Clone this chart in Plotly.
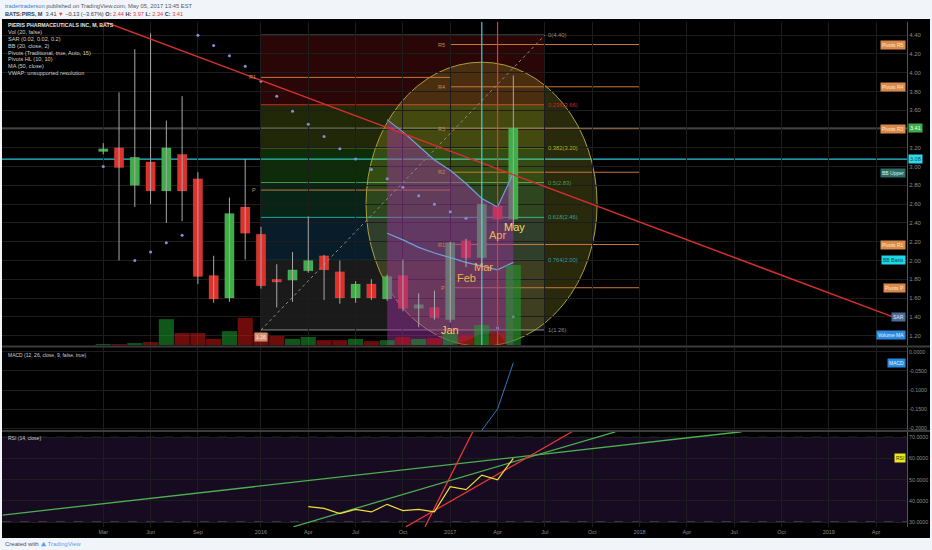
import plotly.graph_objects as go

W, H = 932, 550

# ---- monthly bars, index 0 = Mar 2015 ----
bar_idx = list(range(27))
opens  = [3.16, 3.20, 2.80, 3.05, 2.74, 3.13, 2.87, 1.84, 1.60, 2.57, 2.28, 1.80, 1.79, 1.89,
          2.05, 1.88, 1.60, 1.75, 1.59, 1.84, 1.49, 1.50, 1.37, 2.21, 2.03, 2.58, 2.44]
highs  = [3.25, 3.79, 4.25, 4.42, 3.49, 3.75, 2.94, 2.05, 2.67, 3.08, 2.36, 1.96, 2.09, 2.47,
          2.06, 2.00, 1.78, 1.80, 1.85, 2.01, 1.65, 1.68, 2.20, 2.23, 2.65, 2.66, 3.97]
lows   = [3.13, 2.00, 2.57, 2.60, 2.40, 2.42, 1.75, 1.55, 1.56, 2.01, 1.70, 1.50, 1.56, 1.87,
          1.58, 1.54, 1.55, 1.58, 1.57, 1.46, 1.29, 1.37, 1.34, 1.93, 1.95, 2.40, 2.34]
closes = [3.19, 2.99, 3.10, 2.74, 3.20, 2.74, 1.83, 1.59, 2.50, 2.29, 1.73, 1.77, 1.90, 2.00,
          1.90, 1.60, 1.75, 1.60, 1.83, 1.49, 1.53, 1.39, 2.19, 2.03, 2.60, 2.44, 3.41]
volume_m = [0.3, 0.3, 0.6, 0.9, 8.0, 3.7, 3.7, 1.9, 4.3, 8.4, 3.7, 2.8, 1.9, 2.5,
            1.5, 1.5, 1.9, 1.2, 1.5, 2.5, 1.9, 2.2, 3.7, 3.1, 6.2, 3.7, 24.8]
sar = [3.00, None, 2.00, 2.09, 2.19, 2.27, 4.40, 4.29, 4.18, 4.07, 3.91, 3.75, 3.59, 3.45,
       3.32, 3.19, 3.08, 2.97, 2.87, 2.78, 2.69, 2.60, 2.52, 2.45, None, 1.28, 1.40]

# Bollinger bands (from Sep 2016)
bb_idx = list(range(18, 27))
bb_upper = [3.50, 3.37, 3.22, 3.07, 2.96, 2.82, 2.66, 2.57, 2.93]
bb_basis = [2.29, 2.22, 2.14, 2.08, 2.03, 1.98, 1.94, 1.90, 1.98]
bb_lower = [1.08, 1.07, 1.06, 1.09, 1.10, 1.14, 1.22, 1.23, 1.03]

# MACD and RSI
macd_idx = [24, 25, 26]
macd_vals = [-0.205, -0.149, -0.029]
rsi_idx = list(range(13, 27))
rsi_vals = [37.3, 36.5, 34.0, 36.0, 34.8, 38.4, 35.4, 36.0, 34.9, 46.7, 45.3, 52.2, 50.0, 60.1]

# x ticks
tick_idx = [0, 3, 6, 10, 13, 16, 19, 22, 25, 28, 31, 34, 37, 40, 43, 46, 49]
tick_txt = ["Mar", "Jun", "Sep", "2016", "Apr", "Jul", "Oct", "2017", "Apr", "Jul", "Oct",
            "2018", "Apr", "Jul", "Oct", "2019", "Apr"]

# drawings
fib_start, fib_end = 10, 28
fib_top, fib_bottom = 4.40, 1.26
fib_levels = [0, 0.236, 0.382, 0.5, 0.618, 0.764, 1]
fib_line_colors = ["#8c8c8c", "#c62828", "#b8b820", "#43a047", "#26a69a", "#2f9fa0", "#8c8c8c"]
fib_band_colors = ["rgba(210,30,30,0.2)", "rgba(150,180,30,0.22)", "rgba(60,180,40,0.24)",
                   "rgba(30,150,90,0.24)", "rgba(30,110,160,0.26)", "rgba(110,110,110,0.24)"]
pivot17_names = ["R5", "R4", "R3", "R2", "R1", "P"]
pivot17_vals = [4.30, 3.85, 3.40, 2.94, 2.17, 1.71]
pivot16_names = ["R1", "P"]
pivot16_vals = [3.95, 2.75]
trend_x = [-1.0, 50.07]
trend_y = [4.61, 1.40]
rsi_lines = [([-6.38, 40.47], [33.35, 72.64], "#4caf50"),
             ([12.05, 32.47], [27.8, 72.64], "#4caf50"),
             ([19.19, 29.72], [27.8, 72.64], "#e53935"),
             ([20.40, 23.43], [27.8, 72.64], "#e53935")]
month_labels = ["Jan", "Feb", "Mar", "Apr", "May"]
month_x = [22.0, 23.0, 24.1, 25.0, 26.1]
month_y = [1.26, 1.81, 1.93, 2.27, 2.36]
month_col = ["#f3cf5a", "#f2b04b", "#f2b04b", "#f2b04b", "#f5dc5a"]

legend_lines = ["Vol (20, false)", "SAR (0.02, 0.02, 0.2)", "BB (20, close, 2)",
                "Pivots (Traditional, true, Auto, 15)", "Pivots HL (10, 10)", "MA (50, close)",
                "VWAP: unsupported resolution"]

UP, DOWN = "#3fae49", "#e0302a"
FONT = "Liberation Sans"


def py(px):
    return 1 - px / H


fig = go.Figure()

# Bollinger fill
fig.add_trace(go.Scatter(x=bb_idx, y=bb_lower, mode="lines", line=dict(width=0),
                         hoverinfo="skip", showlegend=False))
fig.add_trace(go.Scatter(x=bb_idx, y=bb_upper, mode="lines", line=dict(color="#6ea0dc", width=1.2),
                         fill="tonexty", fillcolor="rgba(160,50,165,0.46)", showlegend=False))
fig.add_trace(go.Scatter(x=bb_idx, y=bb_basis, mode="lines", line=dict(color="#6ea0dc", width=1.2),
                         showlegend=False))

# volume
vol_col = ["rgba(30,160,45,0.55)" if c >= o else "rgba(200,20,20,0.55)" for o, c in zip(opens, closes)]
fig.add_trace(go.Bar(x=bar_idx, y=volume_m, width=0.96, marker=dict(color=vol_col, line_width=0),
                     yaxis="y4", showlegend=False))

# fib diagonal
fig.add_trace(go.Scatter(x=[fib_start, fib_end], y=[fib_bottom, fib_top], mode="lines",
                         line=dict(color="#8a8a8a", width=1, dash="dot"), showlegend=False))

# wicks
wx, wy = [], []
for i, hi, lo in zip(bar_idx, highs, lows):
    wx += [i, i, None]
    wy += [lo, hi, None]
fig.add_trace(go.Scatter(x=wx, y=wy, mode="lines", line=dict(color="#a8a8a8", width=1),
                         showlegend=False))
# bodies
body_col = [UP if c >= o else DOWN for o, c in zip(opens, closes)]
fig.add_trace(go.Bar(x=bar_idx, y=[abs(c - o) for o, c in zip(opens, closes)],
                     base=[min(o, c) for o, c in zip(opens, closes)], width=0.6,
                     marker=dict(color=body_col, line=dict(color="rgba(255,255,255,0.15)", width=0.5)),
                     showlegend=False))

# SAR
fig.add_trace(go.Scatter(x=bar_idx, y=sar, mode="markers",
                         marker=dict(color="#8290d8", size=3), showlegend=False))

# trend line
fig.add_trace(go.Scatter(x=trend_x, y=trend_y, mode="lines", line=dict(color="#d32f2f", width=1.5),
                         showlegend=False))

# MACD
fig.add_trace(go.Scatter(x=macd_idx, y=macd_vals, mode="lines", line=dict(color="#2a78c8", width=1),
                         yaxis="y2", showlegend=False))

# RSI
for lx, ly, lc in rsi_lines:
    fig.add_trace(go.Scatter(x=lx, y=ly, mode="lines", line=dict(color=lc, width=1.3),
                             yaxis="y3", showlegend=False))
fig.add_trace(go.Scatter(x=rsi_idx, y=rsi_vals, mode="lines", line=dict(color="#f0e03a", width=1.2),
                         yaxis="y3", showlegend=False))

shapes = []
# chart background
shapes.append(dict(type="rect", xref="paper", yref="paper", x0=2 / W, x1=930 / W,
                   y0=py(538), y1=py(19), fillcolor="#000000", line_width=0, layer="below"))
# fib bands and lines
for k in range(len(fib_levels) - 1):
    ya = fib_top - fib_levels[k] * (fib_top - fib_bottom)
    yb = fib_top - fib_levels[k + 1] * (fib_top - fib_bottom)
    shapes.append(dict(type="rect", xref="x", yref="y", x0=fib_start, x1=fib_end, y0=yb, y1=ya,
                       fillcolor=fib_band_colors[k], line_width=0, layer="below"))
for lv, lc in zip(fib_levels, fib_line_colors):
    yv = fib_top - lv * (fib_top - fib_bottom)
    shapes.append(dict(type="line", xref="x", yref="y", x0=fib_start, x1=fib_end, y0=yv, y1=yv,
                       line=dict(color=lc, width=1), layer="below"))
# circle
shapes.append(dict(type="circle", xref="x", yref="y", x0=16.66, x1=31.31, y0=1.087, y1=4.112,
                   fillcolor="rgba(225,225,60,0.18)", line=dict(color="#a8a040", width=1),
                   layer="below"))
# pivots
for v in pivot17_vals:
    shapes.append(dict(type="line", xref="x", yref="y", x0=22, x1=34, y0=v, y1=v,
                       line=dict(color="#c8783a", width=1), layer="below"))
for v in pivot16_vals:
    shapes.append(dict(type="line", xref="x", yref="y", x0=10, x1=22, y0=v, y1=v,
                       line=dict(color="#c8783a", width=1), layer="below"))
# horizontal lines
shapes.append(dict(type="line", xref="x domain", yref="y", x0=0, x1=1, y0=3.41, y1=3.41,
                   line=dict(color="#707070", width=1), layer="below"))
shapes.append(dict(type="line", xref="x domain", yref="y", x0=0, x1=1, y0=3.08, y1=3.08,
                   line=dict(color="#26c6da", width=1.2), layer="below"))
# vertical lines
shapes.append(dict(type="line", xref="x", yref="y domain", x0=24, x1=24, y0=0, y1=1,
                   line=dict(color="#3ad0e0", width=1.2)))
shapes.append(dict(type="line", xref="x", yref="y domain", x0=25, x1=25, y0=0, y1=1,
                   line=dict(color="#e53935", width=1.2)))
# RSI band and dashed levels
shapes.append(dict(type="rect", xref="x domain", yref="y3", x0=0, x1=1, y0=30, y1=70,
                   fillcolor="rgba(120,60,180,0.18)", line_width=0, layer="below"))
for v in (30, 70):
    shapes.append(dict(type="line", xref="x domain", yref="y3", x0=0, x1=1, y0=v, y1=v,
                       line=dict(color="#7a7a7a", width=1, dash="dash"), layer="below"))
# pane separators
for ypx in (346.5, 431):
    shapes.append(dict(type="line", xref="paper", yref="paper", x0=2 / W, x1=930 / W,
                       y0=py(ypx), y1=py(ypx), line=dict(color="#3c3c3c", width=2)))

ann = []


def text(x, y, s, xref="paper", yref="paper", size=6.5, color="#cfcfcf", xanchor="left",
         yanchor="middle", bg=None, **kw):
    d = dict(x=x, y=y, xref=xref, yref=yref, text=s, showarrow=False, xanchor=xanchor,
             yanchor=yanchor, font=dict(family=FONT, size=size, color=color))
    if bg:
        d.update(bgcolor=bg, borderpad=1)
    d.update(kw)
    ann.append(d)


# header
text(3 / W, py(6), "<span style='color:#2f7fd0'>tradertraderson</span> published on TradingView.com, "
     "May 05, 2017 13:45 EST", size=5.8, color="#505a66")
text(3 / W, py(14), "<b>BATS:PIRS, M</b>  3.41 <span style='color:#e53935'>▼</span> −0.13 (−3.67%) "
     "<b>O:</b> <span style='color:#e53935'>2.44</span> <b>H:</b> <span style='color:#e53935'>3.97</span> "
     "<b>L:</b> <span style='color:#e53935'>2.34</span> <b>C:</b> <span style='color:#e53935'>3.41</span>",
     size=5.6, color="#333c46")
# footer
text(3 / W, py(544), "Created with", size=6, color="#4a525c")
text(38 / W, py(544), "<b>⛰</b> TradingView", size=6, color="#5aa0e6")

# pane legends
text(6 / W, py(25), "<b>PIERIS PHARMACEUTICALS INC, M, BATS</b>", size=5.2, color="#e8e8e8")
for k, s in enumerate(legend_lines):
    text(6 / W, py(32.3 + 6.8 * k), s, size=5.6, color="#cfcfcf")
text(6 / W, py(355), "MACD (12, 26, close, 9, false, true)", size=5, color="#cfcfcf")
text(6 / W, py(438), "RSI (14, close)", size=5, color="#cfcfcf")

# fib labels
for lv, lc in zip(fib_levels, fib_line_colors):
    yv = fib_top - lv * (fib_top - fib_bottom)
    lab = ("%g" % lv) + "(%.2f)" % yv
    text(fib_end + 0.1, yv, lab, xref="x", yref="y", size=5.8, color=lc)

# pivot labels
for n, v in zip(pivot17_names, pivot17_vals):
    text(21.8, v, n, xref="x", yref="y", size=5.5, color="#d0884a", xanchor="right")
for n, v in zip(pivot16_names, pivot16_vals):
    text(9.8, v, n, xref="x", yref="y", size=5.5, color="#d0884a", xanchor="right")
text(10, 1.18, "1.26", xref="x", yref="y", size=5, color="#fff0e0", xanchor="center", bg="#d89070")

# month labels
for s, mx, my, mc in zip(month_labels, month_x, month_y, month_col):
    text(mx, my, s, xref="x", yref="y", size=11, color=mc, xanchor="center")

# right axis boxes
ax_r = 906 / W
boxes = [("Pivots R5", 4.30, "#d98a4a", "#fde8d2"), ("Pivots R4", 3.85, "#d98a4a", "#fde8d2"),
         ("Pivots R3", 3.40, "#d98a4a", "#fde8d2"), ("BB Upper", 2.93, "#2e6d66", "#d8f0ec"),
         ("Pivots R1", 2.17, "#d98a4a", "#fde8d2"), ("BB Basis", 2.00, "#1fd6e6", "#0b4b55"),
         ("Pivots P", 1.71, "#d98a4a", "#fde8d2"), ("SAR", 1.40, "#4c6a98", "#e0e8f5"),
         ("Volume MA", 1.205, "#2a8ae0", "#e8f3ff")]
for s, v, bg, fg in boxes:
    text(ax_r, v, s, yref="y", size=5, color=fg, xanchor="right", bg=bg)
text(908 / W, 3.41, "3.41", yref="y", size=5.5, color="#ffffff", bg="#3cae48")
text(908 / W, 3.08, "3.08", yref="y", size=5.5, color="#0b4b55", bg="#2fd8ea")
text(ax_r, -0.030, "MACD", yref="y2", size=5, color="#e8f3ff", xanchor="right", bg="#2a8ae0")
text(ax_r, 60.1, "RSI", yref="y3", size=5, color="#333300", xanchor="right", bg="#e8e820")

GRID = "#1d1d1d"
TICKF = dict(family=FONT, size=6, color="#8c8c8c")
TICKS = dict(family=FONT, size=5.3, color="#8c8c8c")
price_ticks = [round(1.2 + 0.2 * k, 2) for k in range(17)]

fig.update_layout(
    width=W, height=H, margin=dict(l=0, r=0, t=0, b=0),
    paper_bgcolor="#f1f4f9", plot_bgcolor="#000000",
    barmode="overlay", showlegend=False, shapes=shapes, annotations=ann,
    xaxis=dict(domain=[2 / W, 907 / W], range=[-6.42, 50.96], anchor="y3",
               tickvals=tick_idx, ticktext=tick_txt, tickfont=dict(family=FONT, size=5.5, color="#8c8c8c"),
               showgrid=True, gridcolor=GRID, zeroline=False, ticks="", showline=False),
    yaxis=dict(domain=[py(345), py(22)], range=[1.10, 4.54], side="right", anchor="x",
               tickvals=price_ticks, ticktext=["%.2f" % v for v in price_ticks], tickfont=TICKF,
               showgrid=True, gridcolor=GRID, zeroline=False, showline=True, linecolor="#555555"),
    yaxis4=dict(overlaying="y", range=[0, 100], visible=False),
    yaxis2=dict(domain=[py(431), py(347)], range=[-0.2065, 0.0122], side="right", anchor="x",
                tickvals=[0, -0.05, -0.1, -0.15, -0.2],
                ticktext=["0.0000", "-0.0500", "-0.1000", "-0.1500", "-0.2000"], tickfont=TICKS,
                showgrid=True, gridcolor=GRID, zeroline=False, showline=True, linecolor="#555555"),
    yaxis3=dict(domain=[py(527), py(431)], range=[27.7, 73.0], side="right", anchor="x",
                tickvals=[30, 40, 50, 60, 70],
                ticktext=["30.0000", "40.0000", "50.0000", "60.0000", "70.0000"], tickfont=TICKS,
                showgrid=True, gridcolor=GRID, zeroline=False, showline=True, linecolor="#555555"),
)

fig.write_html("out.html", config={"displayModeBar": False},
               post_script="document.body.style.margin='0';")
